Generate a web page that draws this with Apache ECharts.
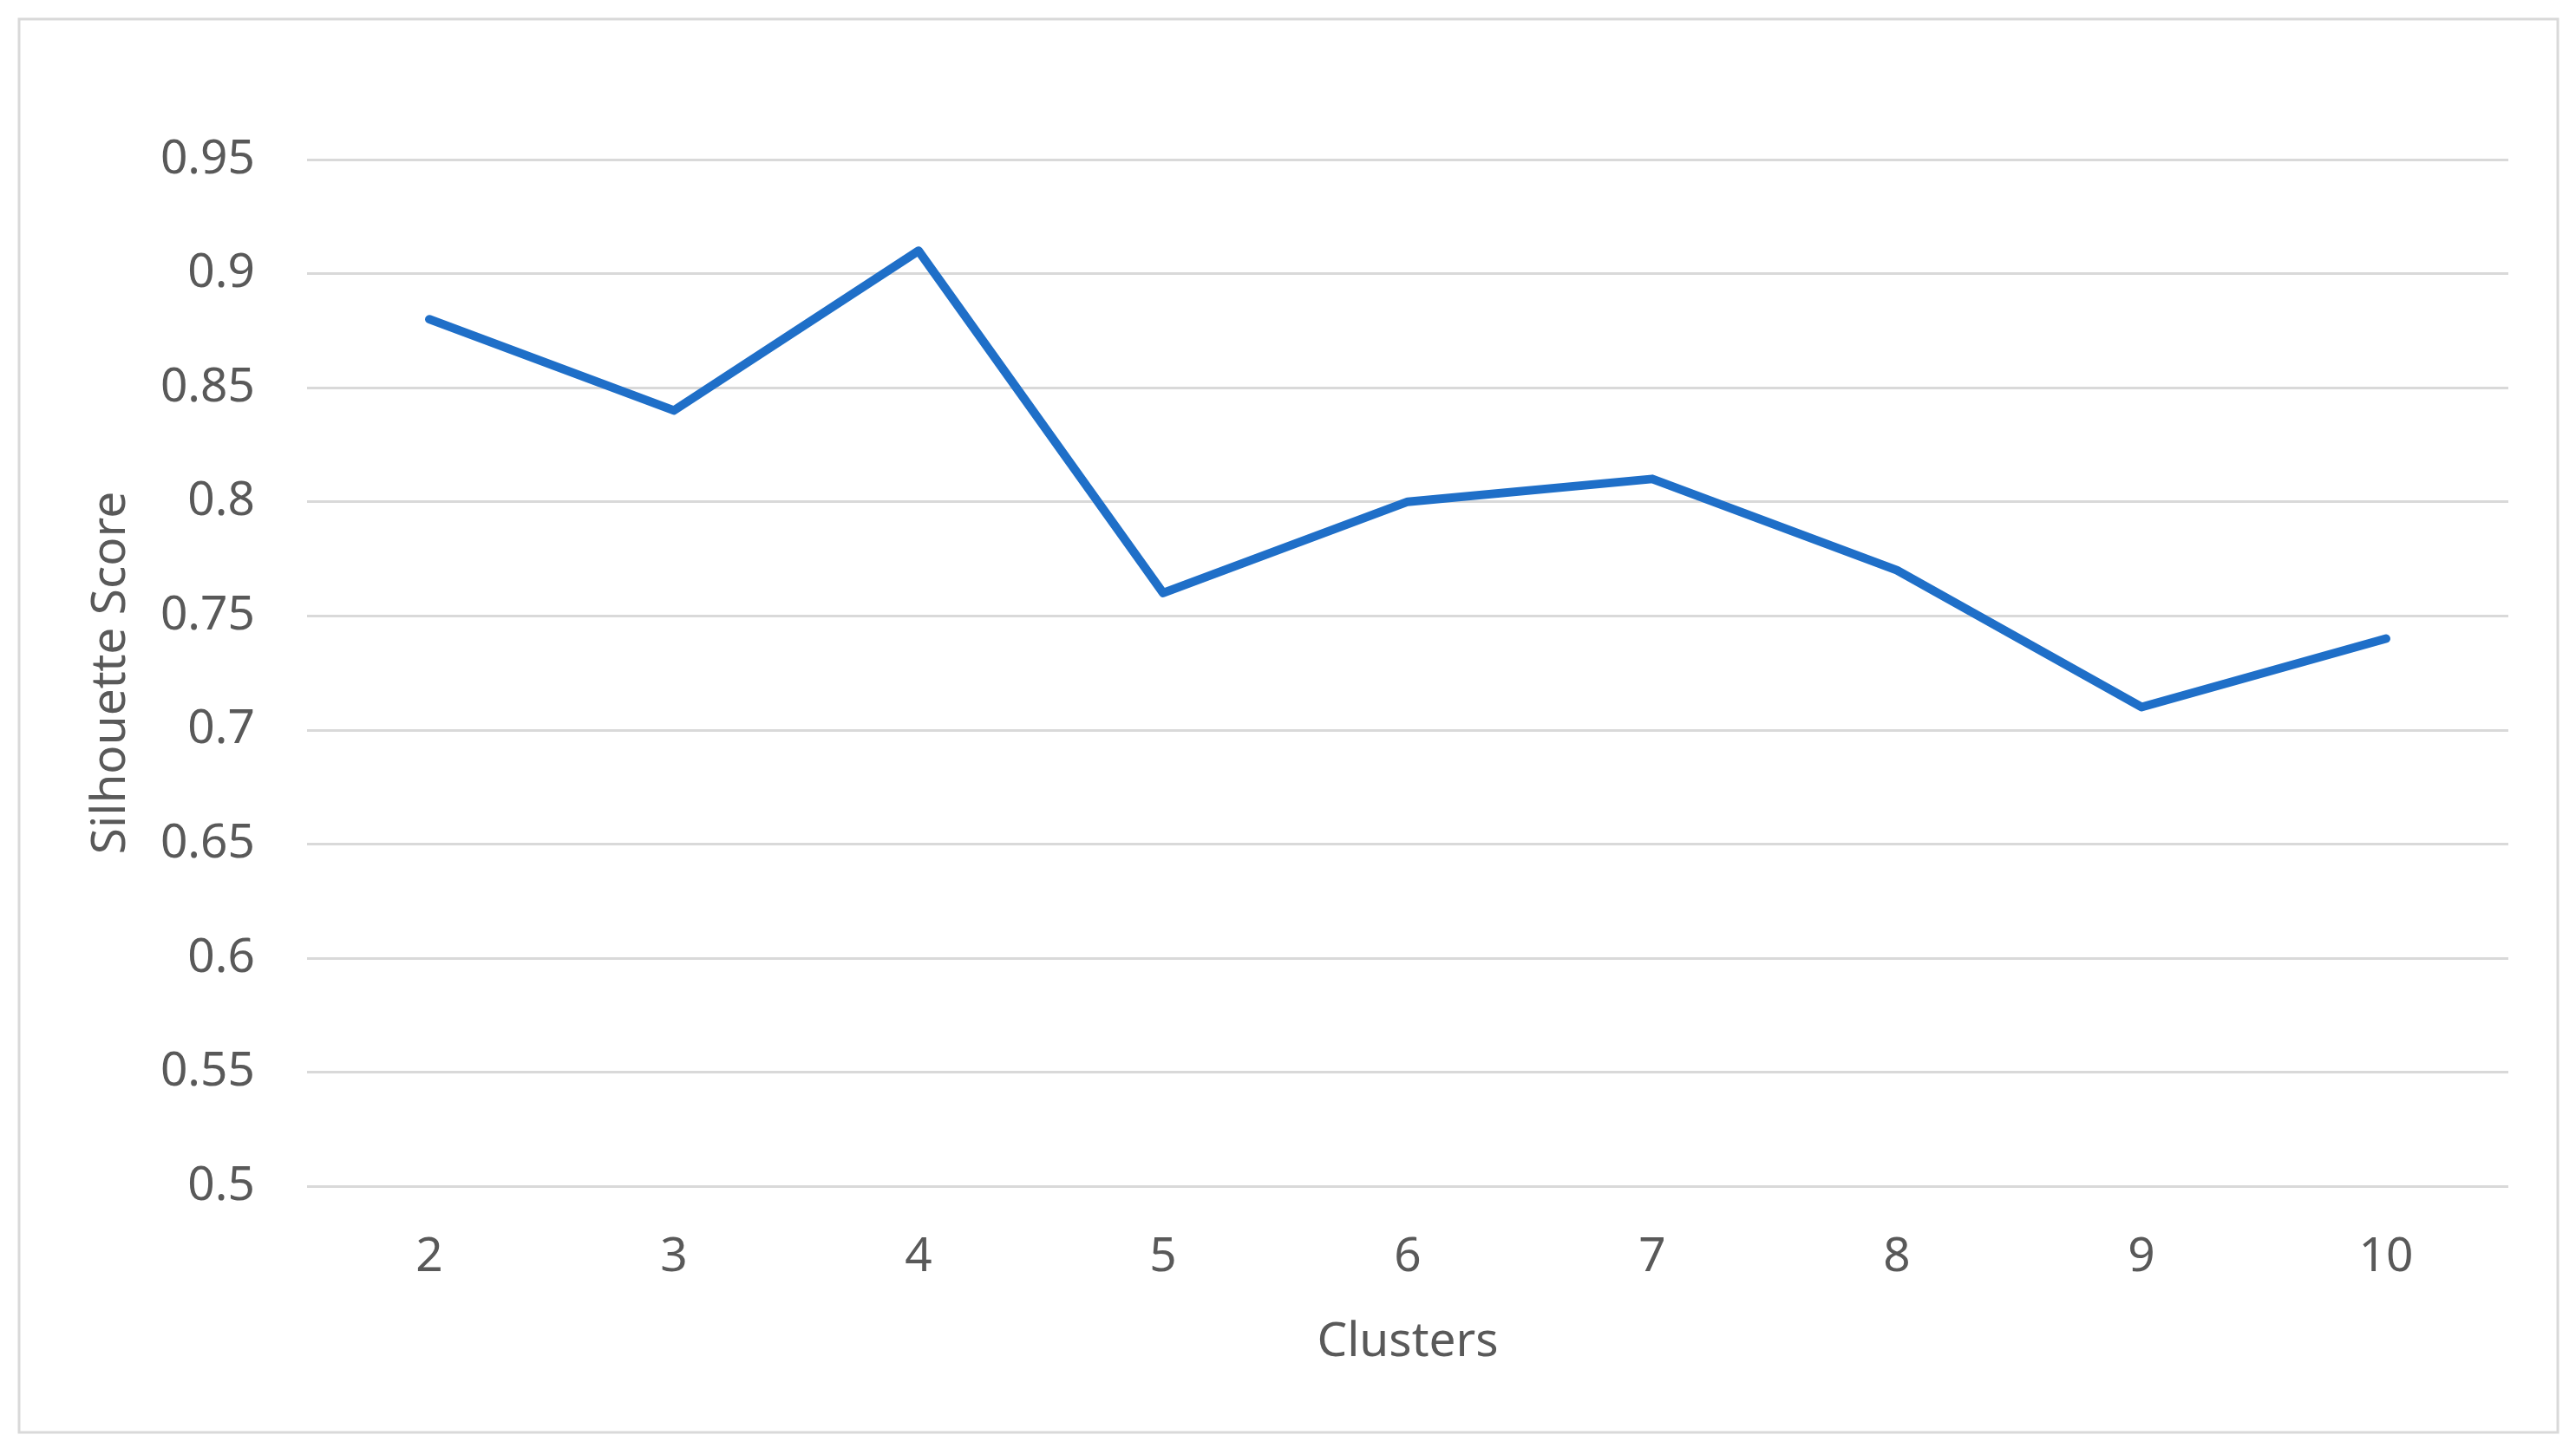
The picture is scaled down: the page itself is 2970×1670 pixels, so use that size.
<!DOCTYPE html>
<html>
<head>
<meta charset="utf-8">
<script src="https://cdn.jsdelivr.net/npm/echarts@6/dist/echarts.min.js"></script>
<style>
html,body{margin:0;padding:0;background:#fff;}
#chart{width:2970px;height:1670px;}
</style>
</head>
<body>
<div id="chart"></div>
<script>
const clusters = ['2','3','4','5','6','7','8','9','10'];
const silhouetteScores = [0.88, 0.84, 0.91, 0.76, 0.80, 0.81, 0.77, 0.71, 0.74];
const yTicks = {min: 0.5, max: 0.95, interval: 0.05};

const chart = echarts.init(document.getElementById('chart'));
const font = '"Noto Sans", "Open Sans", sans-serif';
chart.setOption({
  backgroundColor: '#ffffff',
  animation: false,
  graphic: [{
    type: 'rect',
    shape: {x: 22, y: 22, width: 2927, height: 1630},
    style: {fill: 'none', stroke: '#d9d9d9', lineWidth: 3},
    silent: true
  }],
  grid: {left: 354, right: 78, top: 184, bottom: 302},
  xAxis: {
    type: 'category',
    data: clusters,
    boundaryGap: true,
    name: 'Clusters',
    nameLocation: 'middle',
    nameGap: 153,
    nameTextStyle: {fontFamily: font, fontSize: 55, color: '#595959'},
    axisLine: {show: false},
    axisTick: {show: false},
    axisLabel: {fontFamily: font, fontSize: 55, color: '#595959', margin: 55}
  },
  yAxis: {
    type: 'value',
    min: yTicks.min,
    max: yTicks.max,
    interval: yTicks.interval,
    name: 'Silhouette Score',
    nameLocation: 'middle',
    nameGap: 198,
    nameTextStyle: {fontFamily: font, fontSize: 55, color: '#595959'},
    axisLine: {show: false},
    axisTick: {show: false},
    axisLabel: {fontFamily: font, fontSize: 55, color: '#595959', margin: 60,
      formatter: v => String(parseFloat(v.toFixed(2)))},
    splitLine: {show: true, lineStyle: {color: '#d9d9d9', width: 3}}
  },
  series: [{
    type: 'line',
    data: silhouetteScores,
    symbol: 'none',
    lineStyle: {color: '#1f6fc8', width: 10, join: 'round', cap: 'round'},
    itemStyle: {color: '#1f6fc8'}
  }]
});
</script>
</body>
</html>
